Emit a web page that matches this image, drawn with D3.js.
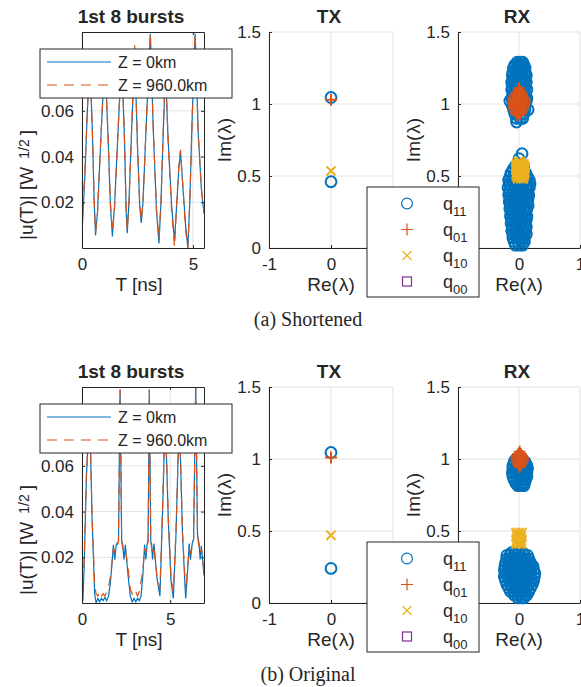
<!DOCTYPE html>
<html>
<head>
<meta charset="utf-8">
<script src="https://cdn.jsdelivr.net/npm/d3@7"></script>
<style>
body { margin: 0; background: #fff; }
svg text { font-family: "Liberation Sans", Arial, sans-serif; fill: #262626; }
</style>
</head>
<body>
<script>
// ---------- data ----------
// time traces, (a) shortened
const tTop = [0, 0.12, 0.25, 0.36, 0.47, 0.55, 0.61, 0.7, 0.86, 1.03, 1.17, 1.28, 1.37, 1.47, 1.62, 1.79, 1.92, 1.99, 2.04, 2.12, 2.25, 2.38, 2.5, 2.6, 2.67, 2.75, 2.9, 3.08, 3.22, 3.36, 3.47, 3.56, 3.66, 3.76, 3.88, 4.03, 4.17, 4.27, 4.36, 4.44, 4.56, 4.67, 4.77, 4.86, 4.96, 5.1, 5.24, 5.38, 5.5]
const uTopZ0 = [0.006, 0.03, 0.062, 0.082, 0.05, 0.02, 0.0055, 0.016, 0.05, 0.083, 0.05, 0.019, 0.005, 0.019, 0.05, 0.084, 0.046, 0.016, 0.0065, 0.021, 0.055, 0.085, 0.045, 0.019, 0.011, 0.02, 0.055, 0.0937, 0.05, 0.016, 0.002, 0.02, 0.05, 0.078, 0.048, 0.02, 0.003, 0.019, 0.034, 0.0423, 0.025, 0.01, 0.0, 0.02, 0.055, 0.0937, 0.05, 0.026, 0.015]
const uTopZ960 = [0.01, 0.032, 0.062, 0.083, 0.05, 0.021, 0.007, 0.015, 0.05, 0.084, 0.05, 0.02, 0.007, 0.018, 0.05, 0.085, 0.046, 0.018, 0.008, 0.02, 0.055, 0.0887, 0.045, 0.02, 0.012, 0.02, 0.055, 0.094, 0.05, 0.017, 0.004, 0.02, 0.05, 0.079, 0.048, 0.018, 0.0005, 0.02, 0.035, 0.043, 0.025, 0.008, 0.0, 0.02, 0.055, 0.094, 0.05, 0.026, 0.016]

// time traces, (b) original
const tBot = [0, 0.05, 0.12, 0.25, 0.43, 0.58, 0.72, 0.8, 0.9, 1.0, 1.1, 1.2, 1.3, 1.4, 1.5, 1.6, 1.7, 1.78, 1.86, 1.94, 2.07, 2.16, 2.25, 2.31, 2.38, 2.46, 2.6, 2.74, 2.85, 2.95, 3.05, 3.15, 3.25, 3.35, 3.45, 3.55, 3.62, 3.69, 3.75, 3.82, 3.9, 3.95, 4.0, 4.08, 4.25, 4.42, 4.57, 4.72, 4.9, 5.05, 5.18, 5.33, 5.52, 5.7, 5.88, 6.0, 6.08, 6.15, 6.25, 6.33, 6.45, 6.55, 6.64, 6.7, 6.77, 6.92]
const uBotZ0 = [0.008, 0.001, 0.015, 0.055, 0.084, 0.035, 0.004, 0.0, 0.002, 0.0005, 0.002, 0.001, 0.0025, 0.001, 0.003, 0.008, 0.017, 0.0255, 0.019, 0.0255, 0.027, 0.0934, 0.027, 0.0255, 0.019, 0.0255, 0.013, 0.003, 0.0005, 0.002, 0.0005, 0.002, 0.001, 0.003, 0.012, 0.0255, 0.019, 0.0255, 0.027, 0.0934, 0.027, 0.0255, 0.019, 0.026, 0.011, 0.003, 0.04, 0.083, 0.035, 0.01, 0.002, 0.03, 0.082, 0.03, 0.002, 0.015, 0.026, 0.019, 0.026, 0.028, 0.0948, 0.03, 0.026, 0.019, 0.025, 0.012]
const uBotZ960 = [0.01, 0.009, 0.018, 0.056, 0.085, 0.036, 0.008, 0.004, 0.003, 0.005, 0.003, 0.004, 0.003, 0.005, 0.007, 0.011, 0.018, 0.024, 0.022, 0.024, 0.027, 0.0934, 0.027, 0.024, 0.022, 0.023, 0.0165, 0.006, 0.004, 0.003, 0.005, 0.003, 0.005, 0.0095, 0.014, 0.024, 0.022, 0.024, 0.027, 0.0934, 0.027, 0.024, 0.022, 0.024, 0.012, 0.006, 0.041, 0.084, 0.036, 0.011, 0.005, 0.031, 0.083, 0.031, 0.005, 0.016, 0.024, 0.022, 0.024, 0.028, 0.0948, 0.03, 0.024, 0.022, 0.024, 0.014]

// TX eigenvalues [Re, Im]
const txTopQ11 = [[0, 1.045], [0, 0.46]]
const txTopQ01 = [[0, 1.03]]
const txTopQ10 = [[0, 0.535]]
const txBotQ11 = [[0, 1.045], [0, 0.24]]
const txBotQ01 = [[0, 1.01]]
const txBotQ10 = [[0, 0.47]]
const noPoints = []

// RX eigenvalue clouds, rows of [Im, [Re, Re, ...]]
const rxTopQ11 = [
    [1.29, [-0.03, 0.02, 0.06]], [1.27, [-0.07, -0.02, 0.03, 0.08]], [1.25, [-0.09, -0.04, 0.01, 0.06, 0.1]],
    [1.22, [-0.1, -0.05, 0.0, 0.05, 0.1]], [1.2, [-0.11, -0.06, -0.01, 0.04, 0.09, 0.12]], [1.17, [-0.1, -0.05, 0.0, 0.05, 0.1]],
    [1.15, [-0.12, -0.07, -0.02, 0.03, 0.08, 0.12]], [1.12, [-0.11, -0.06, 0.0, 0.05, 0.1]], [1.1, [-0.12, -0.07, -0.02, 0.03, 0.08, 0.13]],
    [1.07, [-0.1, -0.05, 0.0, 0.05, 0.11]], [1.04, [-0.12, -0.06, -0.01, 0.04, 0.09, 0.13]], [1.02, [-0.15, -0.1, -0.04, 0.02, 0.07, 0.12]],
    [0.99, [-0.11, -0.06, 0.0, 0.05, 0.1]], [0.96, [-0.09, -0.04, 0.01, 0.06, 0.1, 0.15]], [0.93, [-0.07, -0.02, 0.03, 0.08]],
    [0.9, [-0.04, 0.02, 0.06]], [0.875, [-0.04]],
    [0.655, [0.05]], [0.62, [0.0]], [0.57, [-0.06, 0.0, 0.07]], [0.545, [-0.1, -0.04, 0.02, 0.08]],
    [0.52, [-0.13, -0.07, -0.01, 0.05, 0.11]], [0.495, [-0.15, -0.09, -0.03, 0.03, 0.09, 0.14]],
    [0.47, [-0.17, -0.11, -0.05, 0.01, 0.07, 0.13, 0.17]], [0.445, [-0.16, -0.1, -0.04, 0.02, 0.08, 0.14, 0.18]],
    [0.42, [-0.18, -0.12, -0.06, 0.0, 0.06, 0.12, 0.17]], [0.395, [-0.16, -0.1, -0.04, 0.02, 0.08, 0.14]],
    [0.37, [-0.17, -0.11, -0.05, 0.01, 0.07, 0.13, 0.16]], [0.345, [-0.15, -0.09, -0.03, 0.03, 0.09, 0.15]],
    [0.32, [-0.16, -0.1, -0.04, 0.02, 0.08, 0.14]], [0.295, [-0.14, -0.08, -0.02, 0.04, 0.1, 0.15]],
    [0.27, [-0.15, -0.09, -0.03, 0.03, 0.09, 0.13]], [0.245, [-0.13, -0.07, -0.01, 0.05, 0.11]],
    [0.22, [-0.14, -0.08, -0.02, 0.04, 0.1, 0.13]], [0.195, [-0.12, -0.06, 0.0, 0.06, 0.12]],
    [0.17, [-0.13, -0.07, -0.01, 0.05, 0.11]], [0.145, [-0.11, -0.05, 0.01, 0.07, 0.12]],
    [0.12, [-0.12, -0.06, 0.0, 0.06, 0.11]], [0.095, [-0.1, -0.04, 0.02, 0.08, 0.12]],
    [0.07, [-0.1, -0.04, 0.02, 0.08]], [0.045, [-0.08, -0.02, 0.04, 0.09]], [0.02, [-0.06, 0.0, 0.06]]
]
const rxTopQ01 = [
    [1.11, [0.0]], [1.09, [-0.01, 0.02]], [1.075, [-0.04, 0.0, 0.04]], [1.06, [-0.06, -0.02, 0.02, 0.05]],
    [1.045, [-0.08, -0.04, 0.0, 0.04, 0.07]], [1.03, [-0.09, -0.05, -0.01, 0.03, 0.07, 0.09]],
    [1.015, [-0.09, -0.05, -0.01, 0.03, 0.06, 0.09]], [1.0, [-0.09, -0.05, -0.01, 0.03, 0.07, 0.09]],
    [0.985, [-0.08, -0.04, 0.0, 0.04, 0.08]], [0.97, [-0.08, -0.04, 0.0, 0.04, 0.07]],
    [0.955, [-0.07, -0.03, 0.01, 0.05]], [0.94, [-0.05, -0.01, 0.03]], [0.925, [-0.03, 0.01]]
]
const rxTopQ10 = [
    [0.6, [-0.01, 0.03]], [0.585, [-0.04, 0.0, 0.04, 0.08]], [0.57, [-0.05, -0.01, 0.03, 0.07, 0.1]],
    [0.555, [-0.05, -0.01, 0.03, 0.07, 0.1]], [0.54, [-0.05, -0.01, 0.03, 0.07, 0.09]],
    [0.525, [-0.04, 0.0, 0.04, 0.08, 0.1]], [0.51, [-0.05, -0.01, 0.03, 0.07, 0.09]],
    [0.495, [-0.04, 0.0, 0.04, 0.08]], [0.48, [-0.02, 0.03, 0.07]]
]
const rxBotQ11 = [
    [1.0, [-0.05, 0.0, 0.05]], [0.98, [-0.08, -0.03, 0.02, 0.07, 0.1]], [0.955, [-0.1, -0.05, 0.0, 0.05, 0.1, 0.13]],
    [0.93, [-0.1, -0.05, 0.0, 0.05, 0.1, 0.14]], [0.905, [-0.11, -0.06, -0.01, 0.04, 0.09, 0.13]],
    [0.88, [-0.1, -0.05, 0.0, 0.05, 0.1, 0.13]], [0.855, [-0.08, -0.03, 0.02, 0.07, 0.11]], [0.83, [-0.05, 0.0, 0.05, 0.09]],
    [0.815, [-0.02, 0.04, 0.08]],
    [0.35, [-0.12, -0.06, 0.0, 0.06]], [0.33, [-0.2, -0.15, -0.09, -0.03, 0.03, 0.09, 0.14]],
    [0.305, [-0.2, -0.14, -0.08, -0.02, 0.04, 0.1, 0.16]], [0.28, [-0.22, -0.16, -0.1, -0.04, 0.02, 0.08, 0.14, 0.19]],
    [0.255, [-0.23, -0.17, -0.11, -0.05, 0.01, 0.07, 0.13, 0.19, 0.23]], [0.23, [-0.24, -0.18, -0.12, -0.06, 0.0, 0.06, 0.12, 0.18, 0.24]],
    [0.205, [-0.23, -0.17, -0.11, -0.05, 0.01, 0.07, 0.13, 0.19, 0.26]], [0.18, [-0.24, -0.18, -0.12, -0.06, 0.0, 0.06, 0.12, 0.18, 0.25]],
    [0.155, [-0.22, -0.16, -0.1, -0.04, 0.02, 0.08, 0.14, 0.2, 0.24]], [0.13, [-0.2, -0.14, -0.08, -0.02, 0.04, 0.1, 0.16, 0.22]],
    [0.105, [-0.17, -0.11, -0.05, 0.01, 0.07, 0.13, 0.19]], [0.08, [-0.14, -0.08, -0.02, 0.04, 0.1, 0.16]],
    [0.055, [-0.08, -0.02, 0.04, 0.1, 0.13]], [0.035, [-0.02, 0.04, 0.08]]
]
const rxBotQ01 = [
    [1.05, [0.01]], [1.035, [-0.01, 0.03]], [1.02, [-0.03, 0.01, 0.05]], [1.005, [-0.04, 0.0, 0.04, 0.07]],
    [0.99, [-0.04, 0.0, 0.04, 0.07]], [0.975, [-0.02, 0.02, 0.05]], [0.96, [-0.01, 0.03]], [0.945, [0.01]]
]
const rxBotQ10 = [
    [0.49, [-0.05, 0.0, 0.05]], [0.47, [-0.04, 0.04]], [0.45, [-0.04, 0.0, 0.04]], [0.43, [-0.04, 0.04]], [0.41, [-0.05, 0.0, 0.05]]
]

// ticks and labels
const timeXTicks = [0, 5]
const timeYTicks = [0.02, 0.04, 0.06, 0.08]
const eigXTicks = [-1, 0, 1]
const eigYTicks = [0, 0.5, 1, 1.5]
const traceLabels = ['Z = 0km', 'Z = 960.0km']
const qLabels = ['11', '01', '10', '00']
const captions = ['(a) Shortened', '(b) Original']

// ---------- drawing ----------
const colors = { blue: '#0072BD', orange: '#D95319', yellow: '#EDB120', purple: '#7E2F8E', axis: '#262626', grid: '#e3e3e3' }
const svg = d3.select('body').append('svg').attr('width', 581).attr('height', 687)

const rowsToPoints = rows => rows.flatMap(([im, res]) => res.map(re => [re, im]))

function styleAxis(g, size) {
    g.attr('font-family', null).attr('font-size', size)
    g.select('.domain').attr('stroke', colors.axis)
    g.selectAll('.tick line').attr('stroke', colors.axis)
    g.selectAll('.tick text').attr('fill', colors.axis)
}

function drawGrid(g, x, y, xt, yt) {
    g.selectAll('.gx').data(xt).join('line').attr('class', 'gx')
        .attr('x1', d => x(d)).attr('x2', d => x(d)).attr('y1', y.range()[0]).attr('y2', y.range()[1])
        .attr('stroke', colors.grid)
    g.selectAll('.gy').data(yt).join('line').attr('class', 'gy')
        .attr('y1', d => y(d)).attr('y2', d => y(d)).attr('x1', x.range()[0]).attr('x2', x.range()[1])
        .attr('stroke', colors.grid)
}

function marker(sel, kind, color, sw) {
    if (kind === 'o') {
        sel.append('circle').attr('r', 5.4).attr('fill', 'none').attr('stroke', color).attr('stroke-width', sw)
    } else if (kind === '+') {
        sel.append('path').attr('d', 'M-6,0H6M0,-6V6').attr('stroke', color).attr('stroke-width', sw)
    } else if (kind === 'x') {
        sel.append('path').attr('d', 'M-4.5,-4.5L4.5,4.5M-4.5,4.5L4.5,-4.5').attr('stroke', color).attr('stroke-width', sw)
    } else {
        sel.append('rect').attr('x', -4.5).attr('y', -4.5).attr('width', 9).attr('height', 9)
            .attr('fill', 'none').attr('stroke', color).attr('stroke-width', sw)
    }
}

class TimePlot {
    constructor(_config, _data) {
        this.config = {
            left: 82, right: 204, top: _config.top, height: 216,
            xMax: _config.xMax, yMax: 0.0945, id: _config.id
        }
        this.data = _data
        this.initVis()
    }

    initVis() {
        let vis = this
        let c = vis.config
        let bottom = c.top + c.height
        vis.x = d3.scaleLinear().domain([0, c.xMax]).range([c.left, c.right])
        vis.y = d3.scaleLinear().domain([0, c.yMax]).range([bottom, c.top])
        vis.g = svg.append('g')

        drawGrid(vis.g, vis.x, vis.y, timeXTicks, timeYTicks)

        vis.g.append('clipPath').attr('id', c.id).append('rect')
            .attr('x', c.left).attr('y', c.top).attr('width', c.right - c.left).attr('height', c.height)

        let line = d3.line().x(d => vis.x(d[0])).y(d => vis.y(d[1]))
        vis.g.append('path').datum(d3.zip(vis.data.t, vis.data.z0))
            .attr('clip-path', `url(#${c.id})`)
            .attr('d', line).attr('fill', 'none').attr('stroke', colors.blue).attr('stroke-width', 1.2)
        vis.g.append('path').datum(d3.zip(vis.data.t, vis.data.z960))
            .attr('clip-path', `url(#${c.id})`)
            .attr('d', line).attr('fill', 'none').attr('stroke', colors.orange).attr('stroke-width', 1.2)
            .attr('stroke-dasharray', '10,7')

        vis.g.append('g').attr('transform', `translate(0,${bottom})`)
            .call(d3.axisBottom(vis.x).tickValues(timeXTicks).tickFormat(d => String(d)).tickSizeInner(-3).tickSizeOuter(0).tickPadding(10))
            .call(g => styleAxis(g, 17))
        vis.g.append('g').attr('transform', `translate(${c.left},0)`)
            .call(d3.axisLeft(vis.y).tickValues(timeYTicks).tickFormat(d3.format('.2f')).tickSizeInner(-3).tickSizeOuter(0).tickPadding(8))
            .call(g => styleAxis(g, 17))
        vis.g.append('g').attr('transform', `translate(0,${c.top})`)
            .call(d3.axisTop(vis.x).tickValues(timeXTicks).tickFormat('').tickSizeInner(-3).tickSizeOuter(0))
            .call(g => styleAxis(g, 17))
        vis.g.append('g').attr('transform', `translate(${c.right},0)`)
            .call(d3.axisRight(vis.y).tickValues(timeYTicks).tickFormat('').tickSizeInner(-3).tickSizeOuter(0))
            .call(g => styleAxis(g, 17))

        vis.g.append('text').attr('x', 131).attr('y', c.top - 9).attr('text-anchor', 'middle')
            .attr('font-size', 19).attr('font-weight', 'bold').text('1st 8 bursts')
        vis.g.append('text').attr('x', 139).attr('y', bottom + 43).attr('text-anchor', 'middle')
            .attr('font-size', 19).text('T [ns]')

        let yl = vis.g.append('text').attr('transform', `translate(33,${bottom - 8}) rotate(-90)`)
            .attr('font-size', 19)
        yl.append('tspan').text('|u(T)| [W')
        yl.append('tspan').attr('dx', 8).attr('dy', -4).attr('font-size', 14).text('1/2')
        yl.append('tspan').attr('dx', 4).attr('dy', 4).text(']')

        vis.renderLegend()
    }

    renderLegend() {
        let vis = this
        let top = vis.config.top + 17
        let lg = svg.append('g')
        lg.append('rect').attr('x', 40).attr('y', top).attr('width', 192).attr('height', 49)
            .attr('fill', '#fff').attr('stroke', colors.axis).attr('stroke-width', 1)
        lg.append('line').attr('x1', 47).attr('x2', 111).attr('y1', top + 13).attr('y2', top + 13)
            .attr('stroke', colors.blue).attr('stroke-width', 1.2)
        lg.append('line').attr('x1', 47).attr('x2', 111).attr('y1', top + 36).attr('y2', top + 36)
            .attr('stroke', colors.orange).attr('stroke-width', 1.2).attr('stroke-dasharray', '10,7')
        lg.selectAll('.lt').data(traceLabels).join('text').attr('class', 'lt')
            .attr('x', 118).attr('y', (d, i) => top + 18.5 + i * 23.5)
            .attr('font-size', 16).text(d => d)
    }
}

class EigPlot {
    constructor(_config, _data) {
        this.config = {
            left: _config.left, right: _config.right, top: _config.top, height: 216,
            title: _config.title, ylabelX: _config.ylabelX,
            hideX: _config.hideX, hideY: _config.hideY
        }
        this.data = _data
        this.initVis()
    }

    initVis() {
        let vis = this
        let c = vis.config
        let bottom = c.top + c.height
        vis.x = d3.scaleLinear().domain([-1, 1]).range([c.left, c.right])
        vis.y = d3.scaleLinear().domain([0, 1.5]).range([bottom, c.top])
        vis.g = svg.append('g')

        drawGrid(vis.g, vis.x, vis.y, eigXTicks, eigYTicks)

        // labels that sit under the marker legend are left out
        vis.g.append('g').attr('transform', `translate(0,${bottom})`)
            .call(d3.axisBottom(vis.x).tickValues(eigXTicks).tickFormat(d => c.hideX.includes(d) ? '' : String(d))
                .tickSizeInner(-3).tickSizeOuter(0).tickPadding(10))
            .call(g => styleAxis(g, 17))
        vis.g.append('g').attr('transform', `translate(${c.left},0)`)
            .call(d3.axisLeft(vis.y).tickValues(eigYTicks).tickFormat(d => c.hideY.includes(d) ? '' : String(d))
                .tickSizeInner(-3).tickSizeOuter(0).tickPadding(8))
            .call(g => styleAxis(g, 17))

        let mid = vis.x(0)
        vis.g.append('text').attr('x', mid - 2).attr('y', c.top - 9).attr('text-anchor', 'middle')
            .attr('font-size', 19).attr('font-weight', 'bold').text(c.title)
        let xl = vis.g.append('text').attr('x', mid).attr('y', bottom + 43).attr('text-anchor', 'middle')
            .attr('font-size', 19)
        xl.append('tspan').text('Re(')
        xl.append('tspan').attr('dx', 1).text('λ')
        xl.append('tspan').text(')')
        let yl = vis.g.append('text').attr('transform', `translate(${c.ylabelX},${(c.top + bottom) / 2}) rotate(-90)`)
            .attr('text-anchor', 'middle').attr('font-size', 19)
        yl.append('tspan').text('Im(')
        yl.append('tspan').attr('dx', 1).text('λ')
        yl.append('tspan').text(')')

        vis.renderVis()
    }

    renderVis() {
        let vis = this
        let sets = [
            { pts: vis.data.q11, kind: 'o', color: colors.blue },
            { pts: vis.data.q01, kind: '+', color: colors.orange },
            { pts: vis.data.q10, kind: 'x', color: colors.yellow },
            { pts: vis.data.q00, kind: 's', color: colors.purple }
        ]
        sets.forEach(s => {
            vis.g.append('g').selectAll('g').data(s.pts).join('g')
                .attr('transform', d => `translate(${vis.x(d[0])},${vis.y(d[1])})`)
                .each(function () { marker(d3.select(this), s.kind, s.color, 2) })
        })
    }
}

function markerLegend(top) {
    let kinds = ['o', '+', 'x', 's']
    let cols = [colors.blue, colors.orange, colors.yellow, colors.purple]
    let lg = svg.append('g')
    lg.append('rect').attr('x', 367).attr('y', top).attr('width', 112).attr('height', 110)
        .attr('fill', '#fff').attr('stroke', colors.axis).attr('stroke-width', 1)
    qLabels.forEach((q, i) => {
        let m = lg.append('g').attr('transform', `translate(407,${top + 16.5 + i * 26})`)
        marker(m, kinds[i], cols[i], 1.2)
        let t = lg.append('text').attr('x', 443).attr('y', top + 22.5 + i * 26).attr('font-size', 18)
        t.append('tspan').text('q')
        t.append('tspan').attr('dy', 6).attr('font-size', 13).text(q)
    })
}

const rows = [
    { top: 32, xMax: 5.5, trace: { t: tTop, z0: uTopZ0, z960: uTopZ960 },
      tx: { q11: txTopQ11, q01: txTopQ01, q10: txTopQ10, q00: noPoints },
      rx: { q11: rowsToPoints(rxTopQ11), q01: rowsToPoints(rxTopQ01), q10: rowsToPoints(rxTopQ10), q00: noPoints } },
    { top: 387, xMax: 6.92, trace: { t: tBot, z0: uBotZ0, z960: uBotZ960 },
      tx: { q11: txBotQ11, q01: txBotQ01, q10: txBotQ10, q00: noPoints },
      rx: { q11: rowsToPoints(rxBotQ11), q01: rowsToPoints(rxBotQ01), q10: rowsToPoints(rxBotQ10), q00: noPoints } }
]

rows.forEach((r, i) => {
    new TimePlot({ top: r.top, xMax: r.xMax, id: 'clip' + i }, r.trace)
    new EigPlot({ left: 269, right: 393, top: r.top, title: 'TX', ylabelX: 231, hideX: [1], hideY: [] }, r.tx)
    new EigPlot({ left: 458, right: 580, top: r.top, title: 'RX', ylabelX: 420, hideX: [-1], hideY: [0] }, r.rx)
    markerLegend(r.top + 155)
    svg.append('text').attr('x', 308).attr('y', r.top + 294).attr('text-anchor', 'middle')
        .style('font-family', '"Liberation Serif", "Times New Roman", serif').attr('font-size', 20)
        .text(captions[i])
})
</script>
</body>
</html>
